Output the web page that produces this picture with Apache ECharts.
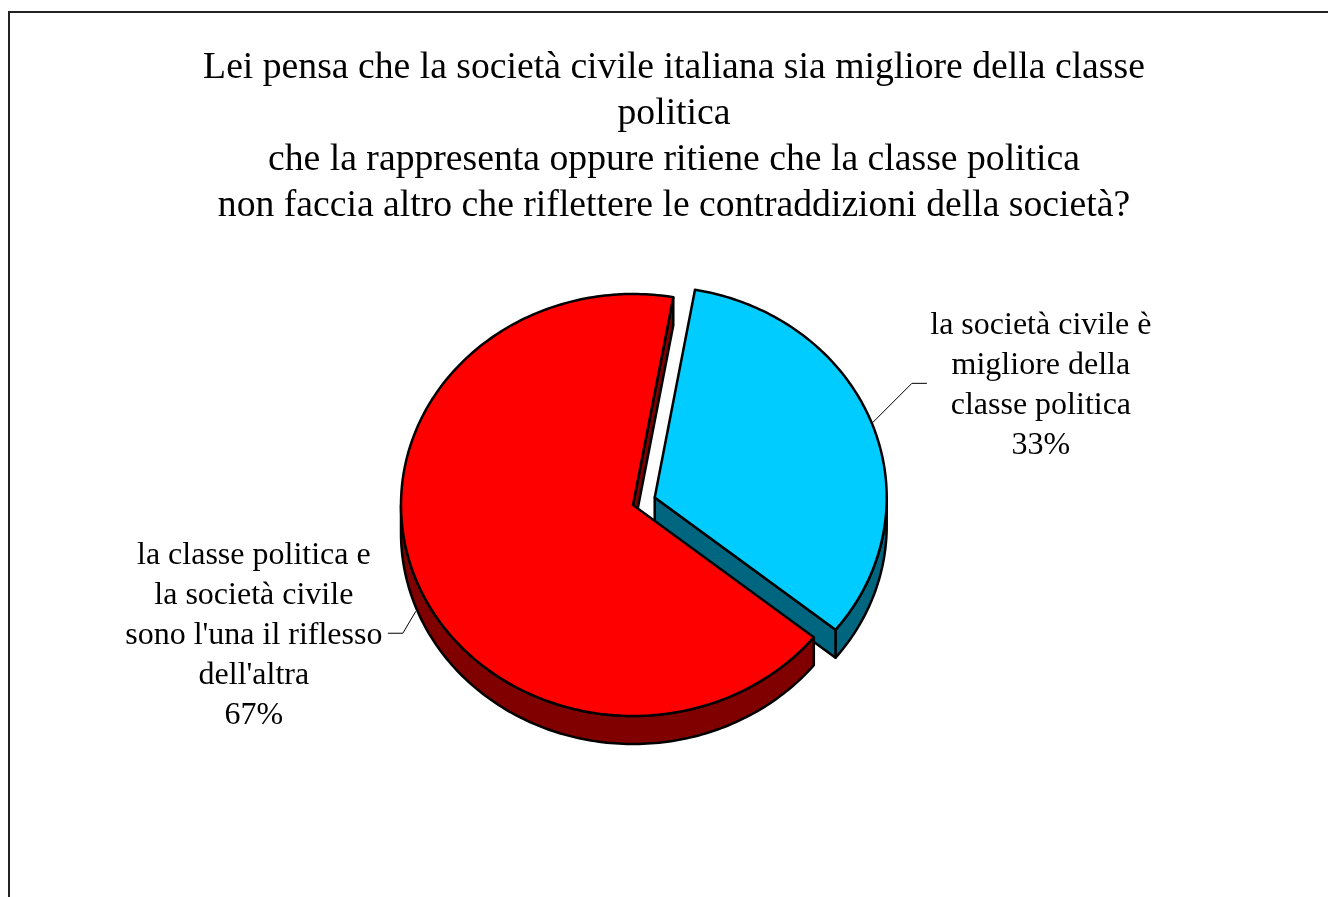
<!DOCTYPE html>
<html>
<head>
<meta charset="utf-8">
<script src="https://cdn.jsdelivr.net/npm/echarts@6/dist/echarts.min.js"></script>
<style>
html,body{margin:0;padding:0;background:#fff;}
#chart{width:1328px;height:897px;}
</style>
</head>
<body>
<div id="chart"></div>
<script>
// ---- data ----
const categories = [
  'la società civile è\nmigliore della\nclasse politica',
  "la classe politica e\nla società civile\nsono l'una il riflesso\ndell'altra"
];
const values = [33, 67];
const topColors = ['#00CCFF', '#FF0000'];
const sideColors = ['#006680', '#800000'];
const explode = [0.1, 0];

const titleText = 'Lei pensa che la società civile italiana sia migliore della classe\npolitica\nche la rappresenta oppure ritiene che la classe politica\nnon faccia altro che riflettere le contraddizioni della società?';

// ---- layout ----
const CX = 633, CY = 505, RX = 232, RY = 211, DEPTH = 28, START = 10;
const FONT = '"Liberation Serif", "Times New Roman", serif';
// label layout: anchor depth offset, elbow offset, end offset, text center offset
const labelLayout = [
  {dz: 0, elbow: [40, -40], end: 15, text: [114, 2]},
  {dz: 32, elbow: [-13, 22], end: -15, text: [-134, 2]}
];

const rad = d => d * Math.PI / 180;
const total = values.reduce((a, b) => a + b, 0);

function renderItem(params, api) {
  const i = params.dataIndex;
  const v = api.value(0);
  let before = 0;
  for (let j = 0; j < i; j++) before += values[j];
  const a1 = START + before / total * 360;
  const a2 = a1 + v / total * 360;
  const mid = (a1 + a2) / 2;
  const ex = explode[i];
  const cx = CX + ex * RX * Math.sin(rad(mid));
  const cy = CY - ex * RY * Math.cos(rad(mid));
  const pt = (t, dz) => [cx + RX * Math.sin(rad(t)), cy - RY * Math.cos(rad(t)) + (dz || 0)];
  const arc = (s, e, dz) => {
    const pts = [];
    const n = Math.max(2, Math.ceil(Math.abs(e - s)));
    for (let k = 0; k <= n; k++) pts.push(pt(s + (e - s) * k / n, dz));
    return pts;
  };
  const children = [];
  const base = i * 10;
  const strokeStyle = {stroke: '#000', lineWidth: 2.5, lineJoin: 'round'};
  // outer side (visible between 90 and 270, plus wrap)
  [[90, 270], [450, 630]].forEach(r => {
    const s = Math.max(a1, r[0]), e = Math.min(a2, r[1]);
    if (e > s) {
      const pts = arc(s, e, 0).concat(arc(e, s, DEPTH));
      children.push({type: 'polygon', z2: base + 1, shape: {points: pts},
        style: Object.assign({fill: sideColors[i]}, strokeStyle)});
    }
  });
  // radial faces
  const apex = [cx, cy];
  const apexD = [cx, cy + DEPTH];
  if (Math.sin(rad(a2)) > 0) {
    children.push({type: 'polygon', z2: base + 2,
      shape: {points: [apex, pt(a2, 0), pt(a2, DEPTH), apexD]},
      style: Object.assign({fill: sideColors[i]}, strokeStyle)});
  }
  if (Math.sin(rad(a1)) < 0) {
    children.push({type: 'polygon', z2: base + 2,
      shape: {points: [apex, pt(a1, 0), pt(a1, DEPTH), apexD]},
      style: Object.assign({fill: sideColors[i]}, strokeStyle)});
  }
  // top face
  children.push({type: 'polygon', z2: base + 3,
    shape: {points: [apex].concat(arc(a1, a2, 0))},
    style: Object.assign({fill: topColors[i]}, strokeStyle)});
  // label + leader
  const L = labelLayout[i];
  const anc = pt(mid, L.dz);
  const elb = [anc[0] + L.elbow[0], anc[1] + L.elbow[1]];
  const end = [elb[0] + L.end, elb[1]];
  children.push({type: 'polyline', z2: 50, shape: {points: [anc, elb, end]},
    style: {stroke: '#000', lineWidth: 1, fill: null}});
  const pct = Math.round(v / total * 100) + '%';
  children.push({type: 'text', z2: 51,
    x: end[0] + L.text[0], y: end[1] + L.text[1],
    style: {text: categories[i] + '\n' + pct, fill: '#000', font: '32px ' + FONT,
      fontSize: 32, fontFamily: FONT, lineHeight: 40,
      align: 'center', verticalAlign: 'middle'}});
  return {type: 'group', children: children};
}

const chart = echarts.init(document.getElementById('chart'), null, {renderer: 'canvas'});
chart.setOption({
  animation: false,
  backgroundColor: '#fff',
  title: {
    text: titleText,
    left: 674,
    top: 45,
    textAlign: 'center',
    padding: 0,
    textStyle: {fontFamily: FONT, fontSize: 37.7, fontWeight: 'normal', color: '#000', lineHeight: 46}
  },
  graphic: [{
    type: 'rect', z: -1, silent: true,
    shape: {x: 9, y: 12, width: 1400, height: 1000},
    style: {fill: null, stroke: '#222', lineWidth: 2}
  }],
  series: [{
    type: 'custom',
    coordinateSystem: 'none',
    renderItem: renderItem,
    data: values.map((v, i) => ({name: categories[i], value: [v]}))
  }]
});
</script>
</body>
</html>
